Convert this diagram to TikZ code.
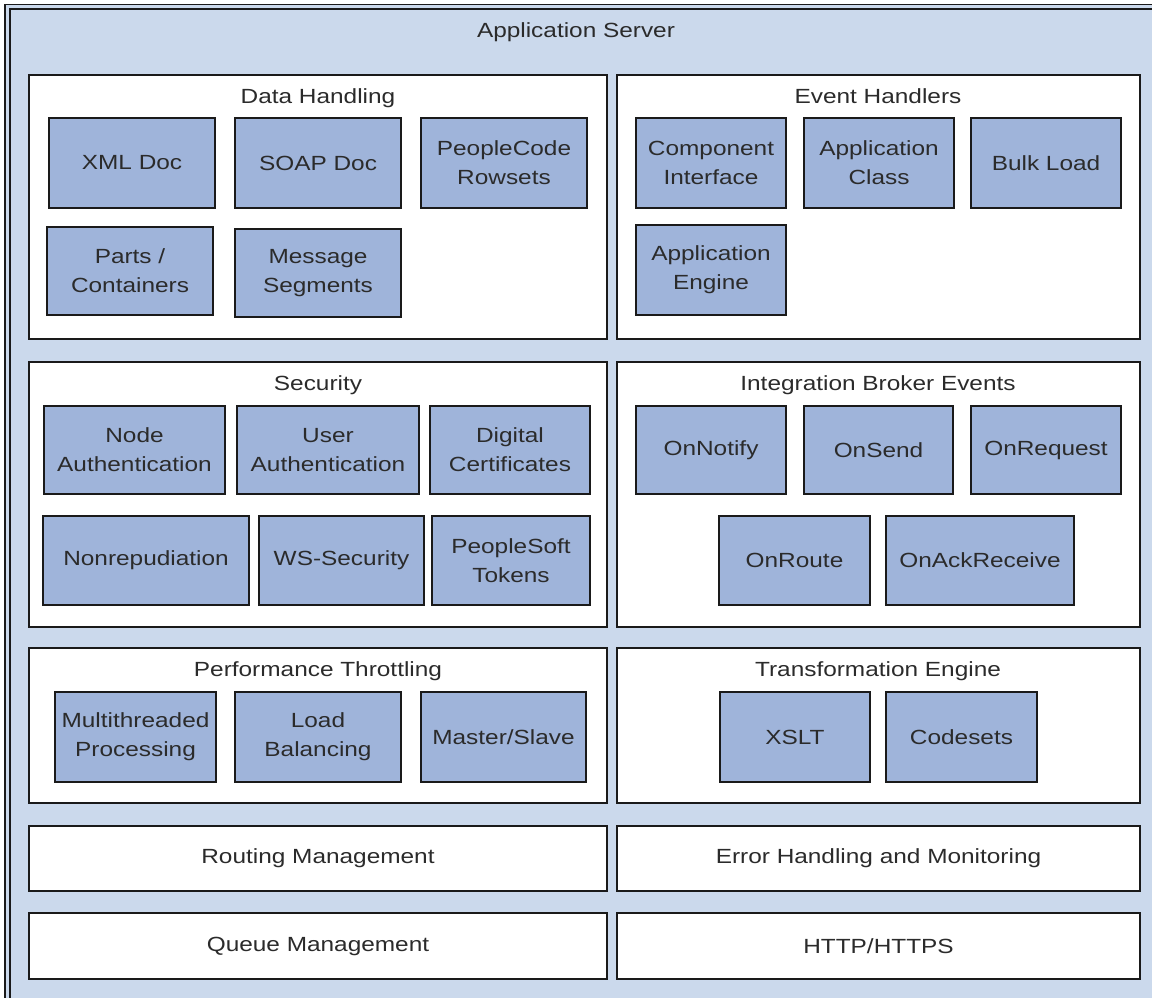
\documentclass[tikz,border=0pt]{standalone}
\usepackage{fontspec}
\setmainfont[FakeStretch=1.19]{Liberation Sans}
\definecolor{bgblue}{HTML}{CBD9EC}
\definecolor{boxblue}{HTML}{9FB4DA}
\definecolor{txt}{HTML}{2B2B2B}
\definecolor{edge}{HTML}{1A1A1A}
\tikzset{
  panel/.style={draw=edge, fill=white, line width=2.5pt, inner sep=0pt},
  ibox/.style={draw=edge, fill=boxblue, line width=2.5pt, inner sep=0pt, align=center,
     text=txt, font=\fontsize{20.5}{29}\selectfont},
  ttl/.style={anchor=base, inner sep=0pt, text=txt, font=\fontsize{20.5}{29}\selectfont},
}
\newcommand\mkbox[7]{\node[#2, minimum width={#5-#3}, minimum height={#6-#4}] (#1) at ({(#3+#5)/2},{(#4+#6)/2}) {#7};}
\begin{document}
\begin{tikzpicture}[x=1pt, y=-1pt]
\useasboundingbox (0,0) rectangle (1152,998);
\clip (0,0) rectangle (1152,998);
\fill[white] (0,0) rectangle (1152,998);
\fill[bgblue] (5,5) rectangle (1250,1100);
\draw[edge, line width=1.6pt] (5,4.5) rectangle (1250,1100);
\draw[edge, line width=1.3pt] (10,9) rectangle (1240,1090);
\node[ttl] (appsrv) at (576,37.5) {Application Server};

% panels
\mkbox{dh}{panel}{29}{75}{607}{339}{}
\mkbox{eh}{panel}{617}{75}{1140}{339}{}
\mkbox{sec}{panel}{29}{362}{607}{627}{}
\mkbox{ibe}{panel}{617}{362}{1140}{627}{}
\mkbox{pt}{panel}{29}{648}{607}{803}{}
\mkbox{te}{panel}{617}{648}{1140}{803}{}
\mkbox{rm}{panel,ibox,fill=white}{29}{826}{607}{891}{Routing Management}
\mkbox{ehm}{panel,ibox,fill=white}{617}{826}{1140}{891}{Error Handling and Monitoring}
\mkbox{qm}{panel,ibox,fill=white}{29}{913}{607}{979}{Queue Management}
\mkbox{http}{panel,ibox,fill=white}{617}{913}{1140}{979}{HTTP/HTTPS}

% panel titles
\node[ttl] (tdh) at (318,103.5) {Data Handling};
\node[ttl] (teh) at (878,103.5) {Event Handlers};
\node[ttl] (tsec) at (318,390.5) {Security};
\node[ttl] (tibe) at (878,390.5) {Integration Broker Events};
\node[ttl] (tpt) at (318,676.5) {Performance Throttling};
\node[ttl] (tte) at (878,676.5) {Transformation Engine};

% Data Handling
\mkbox{xml}{ibox}{49}{118}{215}{208}{XML Doc}
\mkbox{soap}{ibox}{235}{118}{401}{208}{SOAP Doc}
\mkbox{pcr}{ibox}{421}{118}{587}{208}{PeopleCode\\Rowsets}
\mkbox{parts}{ibox}{47}{227}{213}{315}{Parts /\\Containers}
\mkbox{msg}{ibox}{235}{229}{401}{317}{Message\\Segments}

% Event Handlers
\mkbox{ci}{ibox}{636}{118}{786}{208}{Component\\Interface}
\mkbox{ac}{ibox}{804}{118}{954}{208}{Application\\Class}
\mkbox{bl}{ibox}{971}{118}{1121}{208}{Bulk Load}
\mkbox{ae}{ibox}{636}{225}{786}{315}{Application\\Engine}

% Security
\mkbox{na}{ibox}{44}{406}{225}{494}{Node\\Authentication}
\mkbox{ua}{ibox}{237}{406}{419}{494}{User\\Authentication}
\mkbox{dc}{ibox}{430}{406}{590}{494}{Digital\\Certificates}
\mkbox{nr}{ibox}{43}{516}{249}{605}{Nonrepudiation}
\mkbox{ws}{ibox}{259}{516}{424}{605}{WS-Security}
\mkbox{pst}{ibox}{432}{516}{590}{605}{PeopleSoft\\Tokens}

% Integration Broker Events
\mkbox{onn}{ibox}{636}{406}{786}{494}{OnNotify}
\mkbox{ons}{ibox}{804}{406}{953}{494}{OnSend}
\mkbox{onr}{ibox}{971}{406}{1121}{494}{OnRequest}
\mkbox{onro}{ibox}{719}{516}{870}{605}{OnRoute}
\mkbox{onack}{ibox}{886}{516}{1074}{605}{OnAckReceive}

% Performance Throttling
\mkbox{mt}{ibox}{55}{692}{216}{782}{Multithreaded\\Processing}
\mkbox{lb}{ibox}{235}{692}{401}{782}{Load\\Balancing}
\mkbox{ms}{ibox}{421}{692}{586}{782}{Master/Slave}

% Transformation Engine
\mkbox{xslt}{ibox}{720}{692}{870}{782}{XSLT}
\mkbox{cs}{ibox}{886}{692}{1037}{782}{Codesets}
\end{tikzpicture}
\end{document}
